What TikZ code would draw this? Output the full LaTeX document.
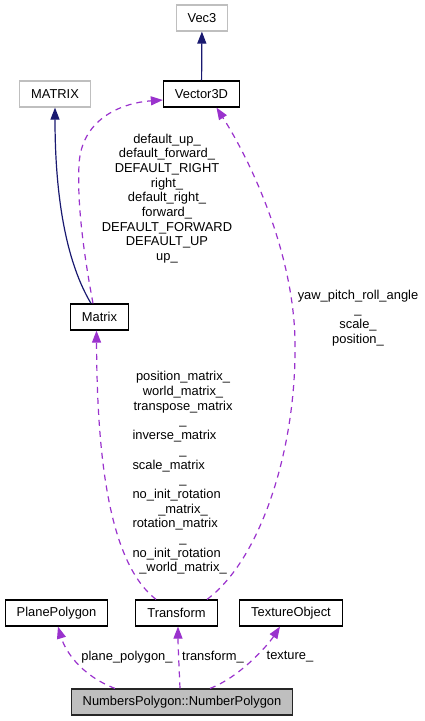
\documentclass[tikz,border=0pt]{standalone}
\usepackage{fontspec}
\setmainfont{Liberation Sans}
\usepackage{xcolor}
\usetikzlibrary{positioning, arrows.meta}
\definecolor{usecol}{HTML}{9A32CD}
\definecolor{inhcol}{HTML}{191970}
\definecolor{extgray}{HTML}{BFBFBF}
\newcommand{\lftline}[1]{#1\hfill\null}

\begin{document}
\begin{tikzpicture}[
        x=1pt, y=-1pt,
        font=\fontsize{12.9pt}{14.7pt}\selectfont,
        cls/.style={rectangle, draw=black, line width=1.2pt, minimum height=26pt, inner xsep=11.5pt, inner ysep=0pt},
        extcls/.style={cls, draw=extgray},
        mainbox/.style={cls, fill=extgray, draw=black!85},
        usage/.style={-{Triangle[length=12pt, width=9pt]}, usecol, line width=1.2pt, dash pattern=on 6pt off 5pt},
        inherit/.style={-{Triangle[length=12pt, width=9pt]}, inhcol, line width=1.2pt},
        lbl/.style={align=center, inner sep=0pt},
    ]
        \useasboundingbox (0,0) rectangle (425,721);

        % Classes
        \node[extcls] (vec3) at (202,18) {Vec3};
        \node[extcls] (MATRIX) at (55,94) {MATRIX};
        \node[cls] (vector) at (201.5,94) {Vector3D};
        \node[cls] (matrix) at (99.5,317) {Matrix};
        \node[cls] (plane) at (56.5,613) {PlanePolygon};
        \node[cls] (transform) at (176.5,613) {Transform};
        \node[cls] (texture) at (291,613) {TextureObject};
        \node[mainbox] (numpoly) at (182,702) {NumbersPolygon::NumberPolygon};

        % Inheritance
        \draw[inherit] (vector) -- (vec3);
        \draw[inherit] ([xshift=-8.5pt]matrix.north) .. controls (62,255) and (55,180) .. (MATRIX.south);

        % Usage
        \draw[usage] ([xshift=-6.5pt]matrix.north) .. controls (84,255) and (77,205) .. (79,165)
            .. controls (81,120) and (120,103) .. ([yshift=-6pt]vector.west);
        \draw[usage] ([xshift=30.5pt]transform.north) .. controls (260,560) and (297,450) .. (295,340)
            .. controls (293,250) and (250,160) .. ([xshift=15pt]vector.south);
        \draw[usage] ([xshift=-20.5pt]transform.north) .. controls (112,565) and (97,470) .. ([xshift=-3pt]matrix.south);
        \draw[usage] ([xshift=-67pt]numpoly.north) .. controls (80,675) and (65,650) .. ([xshift=1.5pt]plane.south);
        \draw[usage] ([xshift=-2pt]numpoly.north) .. controls (179,665) and (178,645) .. ([xshift=1.5pt]transform.south);
        \draw[usage] ([xshift=28pt]numpoly.north) .. controls (240,677) and (268,645) .. ([xshift=-11pt]texture.south);

        % Labels
        \node[lbl] (lvec) at (167,198.5) {default\_up\_\\default\_forward\_\\DEFAULT\_RIGHT\\right\_\\default\_right\_\\forward\_\\DEFAULT\_FORWARD\\DEFAULT\_UP\\up\_};
        \node[lbl] (lyaw) at (358,318) {yaw\_pitch\_roll\_angle\\\_\\scale\_\\position\_};
        \node[lbl, text width=101pt] (lmat) at (183,473) {position\_matrix\_\\world\_matrix\_\\transpose\_matrix\\\_\\\lftline{inverse\_matrix}\\\_\\\lftline{scale\_matrix}\\\_\\\lftline{no\_init\_rotation}\\\_matrix\_\\\lftline{rotation\_matrix}\\\_\\\lftline{no\_init\_rotation}\\\_world\_matrix\_};
        \node[lbl] (lplane) at (127,657) {plane\_polygon\_};
        \node[lbl] (ltrans) at (213,657) {transform\_};
        \node[lbl] (ltex) at (290,657) {texture\_};
    \end{tikzpicture}
\end{document}
